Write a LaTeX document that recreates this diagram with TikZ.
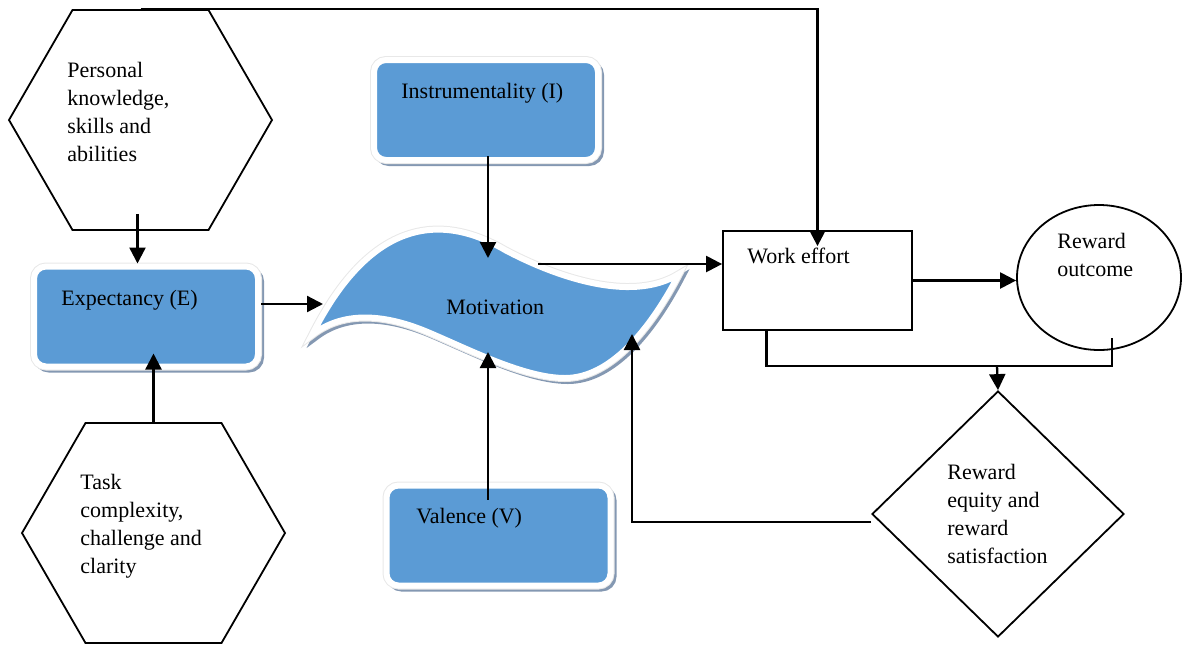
\documentclass[tikz,border=0pt]{standalone}
\usepackage{fontspec}
\setmainfont{Liberation Serif}
\usetikzlibrary{shapes.geometric,shapes.symbols,arrows.meta,calc}

\definecolor{boxblue}{RGB}{91,155,213}
\definecolor{rimgray}{RGB}{232,232,232}
\definecolor{shadowblue}{RGB}{132,152,178}

\begin{document}
\begin{tikzpicture}[x=0.5pt, y=-0.5pt,
  txt/.style={anchor=north west, inner sep=0pt, align=left, font=\fontsize{11}{14}\selectfont},
  outline/.style={draw, line width=0.9pt, fill=white},
  hexa/.style={outline, signal, signal to=west and east, signal pointer angle=120,
    minimum width=131.5pt, minimum height=110pt, inner sep=0pt},
  blueface/.style={fill=boxblue, draw=white, line width=3pt,
    preaction={draw=shadowblue, line width=3pt, transform canvas={xshift=1.5pt, yshift=-1.5pt}},
    preaction={draw=rimgray, line width=4pt}},
  bluebox/.style={blueface, rectangle, rounded corners=6pt, minimum width=112pt, minimum height=50pt},
  link/.style={line width=1.15pt},
  arr/.style={link, -{Triangle[length=8pt, width=8pt]}}]

% Keep the page at the size of the figure
\useasboundingbox (0,0) rectangle (1183,644);

% Hexagons on the left
\node[hexa] (pks) at (140.5,120) {};
\node[txt] (pkstext) at (67,62) {Personal\\knowledge,\\skills and\\abilities};
\node[hexa] (task) at (153.5,533) {};
\node[txt] (tasktext) at (80,474) {Task\\complexity,\\challenge and\\clarity};

% Blue boxes
\node[bluebox] (expect) at (146,316.5) {};
\node[txt] (expecttext) at (61,290) {Expectancy (E)};
\node[bluebox] (instr) at (486,110) {};
\node[txt] (instrtext) at (401,83) {Instrumentality (I)};
\node[bluebox] (val) at (498.5,535.5) {};
\node[txt] (valtext) at (416,508) {Valence (V)};

% Motivation wave
\path[blueface] (312,335) .. controls (370,220) and (440,212) .. (505,250)
  .. controls (550,274) and (630,305) .. (679,274)
  .. controls (650,330) and (610,378) .. (565,378)
  .. controls (525,378) and (470,350) .. (430,333)
  .. controls (400,320) and (350,305) .. cycle;
\node[txt] (mot) at (446,300) {Motivation};
\coordinate (mottop) at (488,258);
\coordinate (motbot) at (488,352);
\coordinate (motleft) at (323,304);
\coordinate (motright) at (538,264);
\coordinate (motback) at (632,334);

% Right side
\node[outline, rectangle, minimum width=94.5pt, minimum height=49.5pt] (work) at (817.5,280.5) {};
\node[txt] (worktext) at (747,248) {Work effort};
\node[outline, ellipse, minimum width=82pt, minimum height=72.5pt] (reward) at (1099,277.5) {};
\node[txt] (rewardtext) at (1057,233) {Reward\\outcome};
\node[outline, diamond, minimum width=126pt, minimum height=123pt] (sat) at (998,514) {};
\node[txt] (sattext) at (947,464) {Reward\\equity and\\reward\\satisfaction};

% Arrows into motivation
\draw[arr] ($(pks.south)+(-3,-17)$) -- (expect.north -| 137.5,0);
\draw[arr] (task.north) -- ($(task.north |- expect.south)+(0,-16)$);
\draw[arr] (expect.east |- motleft) -- (motleft);
\draw[arr] ($(instr.south -| mottop)+(0,-7)$) -- (mottop);
\draw[arr] ($(val.north -| motbot)+(0,17)$) -- (motbot);

% Arrows on the right
\draw[arr] (motright) -- (motright -| work.west);
\draw[arr, line width=1.3pt] (pks.north) -| ($(work.north)+(0,16)$);
\draw[arr] (work.east) -- (work.east -| reward.west);
\coordinate (join) at (997,366);
\draw[link] ($(work.south)+(-51,0)$) |- (join) -| ($(reward.south)+(13,-13)$);
\draw[arr] (join) -- (sat.north);
\draw[arr] ($(sat.west)+(0,8)$) -| (motback);
\end{tikzpicture}
\end{document}
